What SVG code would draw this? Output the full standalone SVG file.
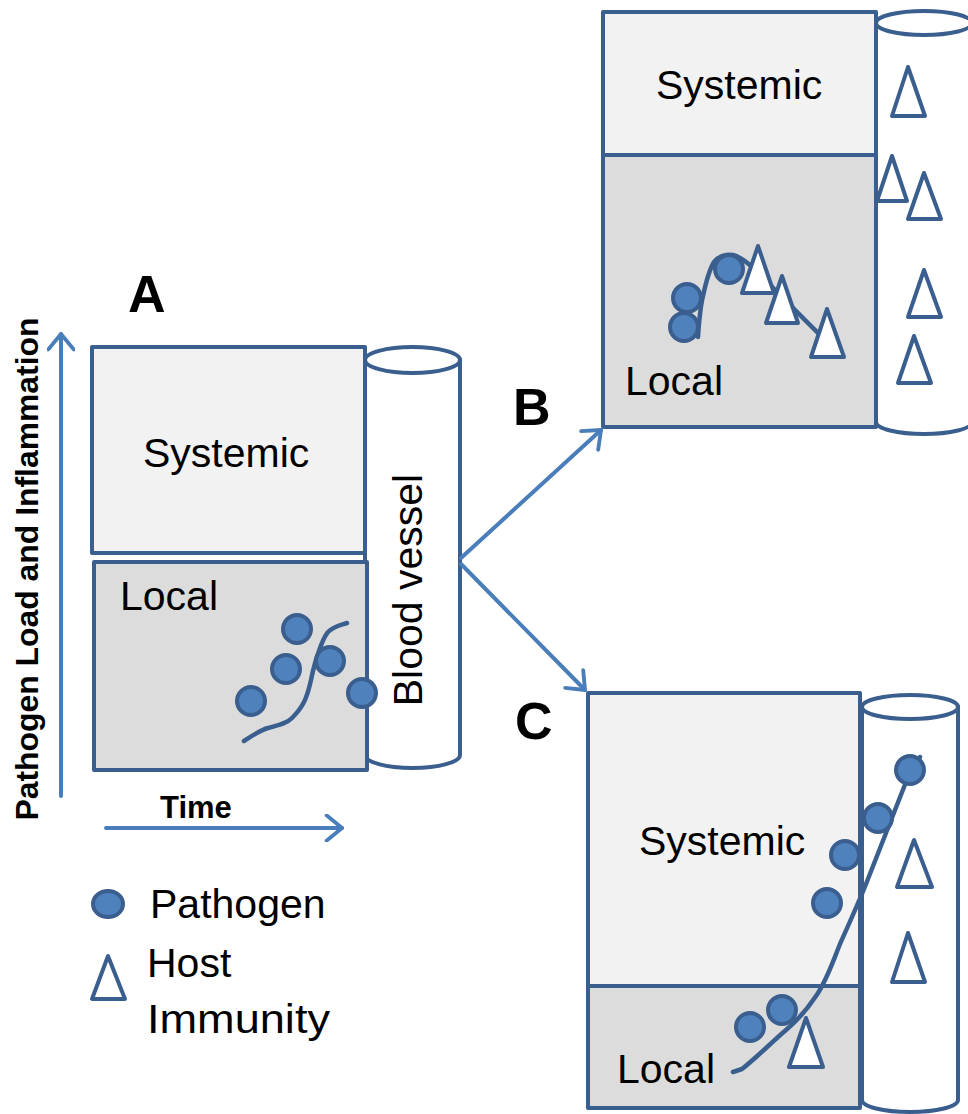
<svg xmlns="http://www.w3.org/2000/svg" width="968" height="1114" viewBox="0 0 968 1114">
<defs>
<style>
.box{stroke:#3a5f8e;stroke-width:4;stroke-linejoin:round}
.sys{fill:#f2f2f2}
.loc{fill:#dcdcdc}
.cyl{fill:#ffffff;stroke:#3a5f8e;stroke-width:4}
.pat{fill:#4f81bd;stroke:#3a5f8e;stroke-width:4}
.imm{fill:#ffffff;stroke:#3a5f8e;stroke-width:4;stroke-linejoin:round}
.crv{fill:none;stroke:#3a5f8e;stroke-width:4.5;stroke-linecap:round;stroke-linejoin:round}
.lbl{font-family:"Liberation Sans",Arial,sans-serif;font-size:41px;fill:#000}
.pnl{font-family:"Liberation Sans",Arial,sans-serif;font-size:52px;font-weight:bold;fill:#000}
.ax{font-family:"Liberation Sans",Arial,sans-serif;font-weight:bold;fill:#000}
.arr{fill:none;stroke:#4a7ebb;stroke-width:4;stroke-linecap:round}
</style>
<marker id="ah" viewBox="0 0 20 26" refX="18" refY="13" markerWidth="5.5" markerHeight="7.15" orient="auto" markerUnits="strokeWidth">
<path d="M4,1.5 L18,13 L4,24.5" fill="none" stroke="#4a7ebb" stroke-width="3.5" stroke-linecap="round" stroke-linejoin="round"/>
</marker>
</defs>
<rect width="968" height="1114" fill="#ffffff"/>

<g id="axes">
<line class="arr" x1="61" y1="796" x2="61" y2="334" marker-end="url(#ah)"/>
<line class="arr" x1="106" y1="828" x2="342" y2="828" marker-end="url(#ah)"/>
<text class="ax" font-size="32" transform="translate(38,569) rotate(-90)" text-anchor="middle" textLength="503" lengthAdjust="spacingAndGlyphs">Pathogen Load and Inflammation</text>
<text class="ax" font-size="31" x="160" y="818">Time</text>
</g>

<g id="panel-A">
<text class="pnl" x="128" y="312">A</text>
<path class="cyl" d="M365,360 L365,755 A47.5,13 0 0 0 460,755 L460,360 Z"/>
<ellipse class="cyl" cx="412.5" cy="360" rx="47.5" ry="13"/>
<text class="lbl" transform="translate(422,590) rotate(-90)" text-anchor="middle">Blood vessel</text>
<rect class="box sys" x="92" y="347" width="273" height="206"/>
<rect class="box loc" x="94" y="562" width="273" height="208"/>
<text class="lbl" x="143" y="467">Systemic</text>
<text class="lbl" x="120" y="610">Local</text>
<path class="crv" d="M244,741 C252,736 260,730 268,728 C278,725 286,724 292,718 C298,712 301,708 304,702 C308,694 309,688 311,680 C313,670 315,662 318,654 C321,645 323,638 328,632 C334,626 341,625 347,623"/>
<circle class="pat" cx="297" cy="629" r="14"/>
<circle class="pat" cx="286" cy="669" r="14"/>
<circle class="pat" cx="330" cy="661" r="14"/>
<circle class="pat" cx="251" cy="701" r="14"/>
<circle class="pat" cx="362" cy="693" r="14"/>
</g>

<g id="panel-B">
<text class="pnl" x="513" y="425">B</text>
<path class="cyl" d="M876,23 L876,422 A48,12 0 0 0 972,422 L972,23 Z"/>
<ellipse class="cyl" cx="924" cy="23" rx="48" ry="12"/>
<rect class="box sys" x="603" y="12" width="273" height="143"/>
<rect class="box loc" x="603" y="155" width="273" height="272"/>
<text class="lbl" x="656" y="99">Systemic</text>
<text class="lbl" x="625" y="395">Local</text>
<path class="crv" d="M698,337 C699,322 700,308 703,296 C706,282 709,270 714,262 C719,256 726,254 733,255 C741,257 748,263 754,269 L838,353"/>
<circle class="pat" cx="687" cy="298" r="14"/>
<circle class="pat" cx="684" cy="327" r="14"/>
<circle class="pat" cx="729" cy="269" r="14"/>
<polygon class="imm" points="758,246 742,293 774,293"/>
<polygon class="imm" points="782,276 766,323 798,323"/>
<polygon class="imm" points="827,309 811,357 844,357"/>
<polygon class="imm" points="908,67 892,116 925,116"/>
<polygon class="imm" points="892,156 877,201 907,201"/>
<polygon class="imm" points="924,173 908,219 941,219"/>
<polygon class="imm" points="924,270 908,317 941,317"/>
<polygon class="imm" points="914,336 898,383 931,383"/>
</g>

<g id="panel-C">
<text class="pnl" x="515" y="739">C</text>
<path class="cyl" d="M862,707 L862,1100 A48,12 0 0 0 958,1100 L958,707 Z"/>
<ellipse class="cyl" cx="910" cy="707" rx="48" ry="12"/>
<rect class="box sys" x="588" y="693" width="272" height="293"/>
<rect class="box loc" x="588" y="986" width="272" height="122"/>
<text class="lbl" x="639" y="855">Systemic</text>
<text class="lbl" x="617" y="1083">Local</text>
<path class="crv" d="M733,1072 L742,1069 C756,1058 772,1042 786,1030 C798,1020 808,1008 816,996 C826,982 832,964 840,944 C848,926 858,904 866,884 L906,782 L920,757"/>
<circle class="pat" cx="910" cy="770" r="14"/>
<circle class="pat" cx="878" cy="818" r="14"/>
<circle class="pat" cx="845" cy="855" r="14"/>
<circle class="pat" cx="827" cy="903" r="14"/>
<circle class="pat" cx="782" cy="1010" r="14"/>
<circle class="pat" cx="750" cy="1027" r="14"/>
<polygon class="imm" points="914,840 897,887 932,887"/>
<polygon class="imm" points="908,933 892,982 925,982"/>
<polygon class="imm" points="806,1018 789,1067 823,1067"/>
</g>

<g id="legend">
<ellipse class="pat" cx="108" cy="904" rx="15" ry="13"/>
<text class="lbl" x="150" y="918">Pathogen</text>
<polygon class="imm" points="108,956 92,999 125,999"/>
<text class="lbl" x="147" y="977">Host</text>
<text class="lbl" x="147" y="1033" textLength="183" lengthAdjust="spacingAndGlyphs">Immunity</text>
</g>

<g id="connectors">
<line class="arr" x1="461" y1="558" x2="601" y2="430" marker-end="url(#ah)"/>
<line class="arr" x1="461" y1="564" x2="585" y2="690" marker-end="url(#ah)"/>
</g>
</svg>
